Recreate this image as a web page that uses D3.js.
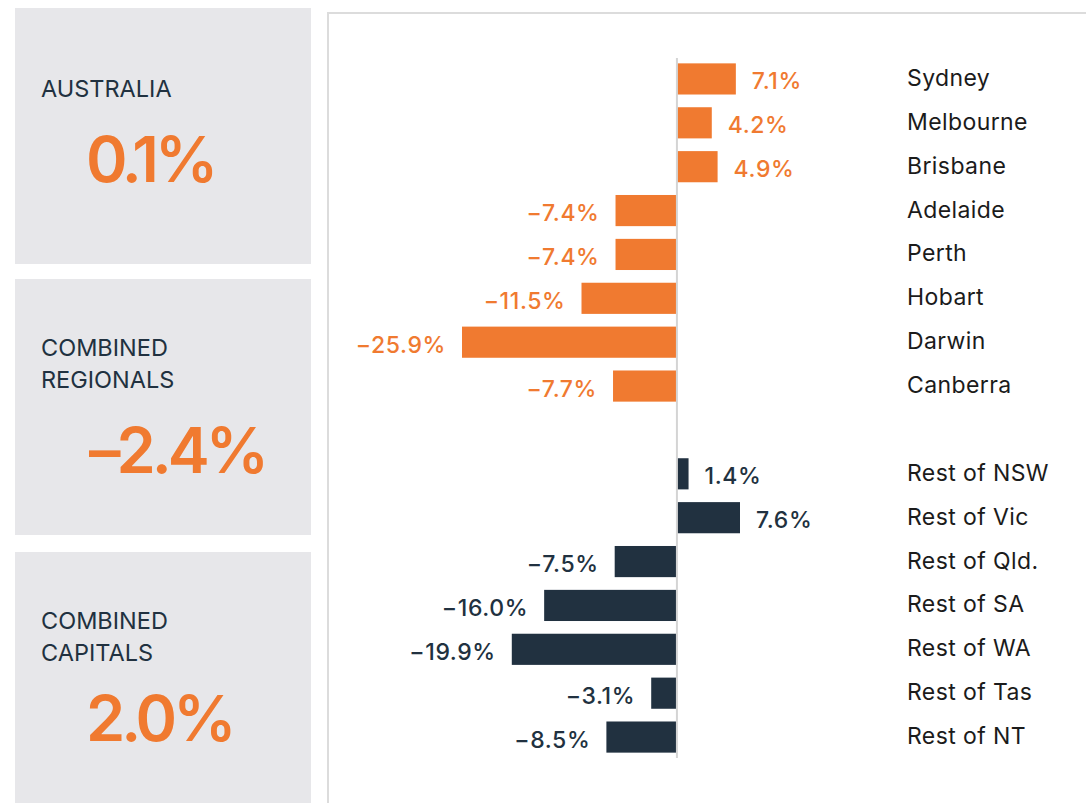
<!DOCTYPE html>
<html lang="en">
<head>
<meta charset="UTF-8">
<title>Growth by region</title>
<script src="https://cdn.jsdelivr.net/npm/d3@7"></script>
<style>
	body { margin: 0; background: #fff; }
	svg { display: block; font-family: Inter, "Noto Sans", sans-serif; }
	.cat { fill: #1b1b1b; font-size: 23px; letter-spacing: 0.4px; }
	.val { font-size: 23px; font-weight: 500; letter-spacing: 0.6px; }
	.title { fill: #213140; font-size: 23.5px; }
	.big { fill: #F07A30; font-size: 63px; font-weight: 600; letter-spacing: -4px; }
</style>
</head>
<body>
<div id="container"></div>
<script>
	var width = 1086, height = 803;

	// summary panels
	var panelTitles = [["AUSTRALIA"], ["COMBINED", "REGIONALS"], ["COMBINED", "CAPITALS"]];
	var panelValues = ["0.1%", "-2.4%", "2.0%"];

	// capital cities
	var capitals = ["Sydney", "Melbourne", "Brisbane", "Adelaide", "Perth", "Hobart", "Darwin", "Canberra"];
	var capitalValues = [7.1, 4.2, 4.9, -7.4, -7.4, -11.5, -25.9, -7.7];

	// rest of state
	var regions = ["Rest of NSW", "Rest of Vic", "Rest of Qld.", "Rest of SA", "Rest of WA", "Rest of Tas", "Rest of NT"];
	var regionValues = [1.4, 7.6, -7.5, -16.0, -19.9, -3.1, -8.5];

	var orange = "#F07A30", navy = "#213140";

	var svg = d3.select("#container").append("svg")
		.attr("width", width)
		.attr("height", height);

	// left panels
	var panelTop = [8, 279, 552];
	var panels = svg.selectAll(".panel").data(panelTitles)
		.enter().append("g")
			.attr("class", "panel")
			.attr("transform", (d, i) => "translate(15," + panelTop[i] + ")");

	panels.append("rect")
		.attr("width", 296)
		.attr("height", 256)
		.attr("fill", "#E7E7EA");

	panels.each(function(lines, i) {
		var g = d3.select(this);
		var base = lines.length == 1 ? 89 : 77;
		lines.forEach(function(t, j) {
			g.append("text")
				.attr("class", "title")
				.attr("x", 26)
				.attr("y", base + j * 32)
				.text(t);
		});
		g.append("text")
			.attr("class", "big")
			.attr("x", i == 1 ? 74 : 71)
			.attr("y", lines.length == 1 ? 174 : (i == 1 ? 194 : 189))
			.text(panelValues[i].replace("-", "\u2013"));
	});

	// chart frame
	svg.append("rect")
		.attr("x", 328)
		.attr("y", 13)
		.attr("width", 800)
		.attr("height", 820)
		.attr("fill", "none")
		.attr("stroke", "#DCDCDC")
		.attr("stroke-width", 2);

	var rows = capitals.map((c, i) => ({name: c, value: capitalValues[i], color: orange}))
		.concat(regions.map((c, i) => ({name: c, value: regionValues[i], color: navy})));

	var y = d3.scaleBand()
		.domain(capitals.concat(["_gap"], regions))
		.range([57, 759])
		.paddingInner(0.29)
		.paddingOuter(0.145);

	var x = d3.scaleLinear()
		.domain([-25.9, 7.6])
		.range([462, 740]);

	var fmt = v => (v < 0 ? "\u2212" : "") + d3.format(".1f")(Math.abs(v)) + "%";

	svg.selectAll(".bar").data(rows)
		.enter().append("rect")
			.attr("class", "bar")
			.attr("x", d => x(Math.min(0, d.value)))
			.attr("y", d => y(d.name))
			.attr("width", d => Math.abs(x(d.value) - x(0)))
			.attr("height", y.bandwidth())
			.attr("fill", d => d.color);

	// zero line
	svg.append("line")
		.attr("x1", x(0)).attr("x2", x(0))
		.attr("y1", y.range()[0] + 1).attr("y2", y.range()[1] - 1)
		.attr("stroke", "#D4D4D4")
		.attr("stroke-width", 2);

	svg.selectAll(".val").data(rows)
		.enter().append("text")
			.attr("class", "val")
			.attr("x", d => d.value < 0 ? x(d.value) - 16 : x(d.value) + 16)
			.attr("y", d => y(d.name) + y.bandwidth() / 2 + 10.5)
			.attr("text-anchor", d => d.value < 0 ? "end" : "start")
			.attr("fill", d => d.color)
			.text(d => fmt(d.value));

	svg.selectAll(".cat").data(rows)
		.enter().append("text")
			.attr("class", "cat")
			.attr("x", 907)
			.attr("y", d => y(d.name) + y.bandwidth() / 2 + 7)
			.text(d => d.name);
</script>
</body>
</html>
